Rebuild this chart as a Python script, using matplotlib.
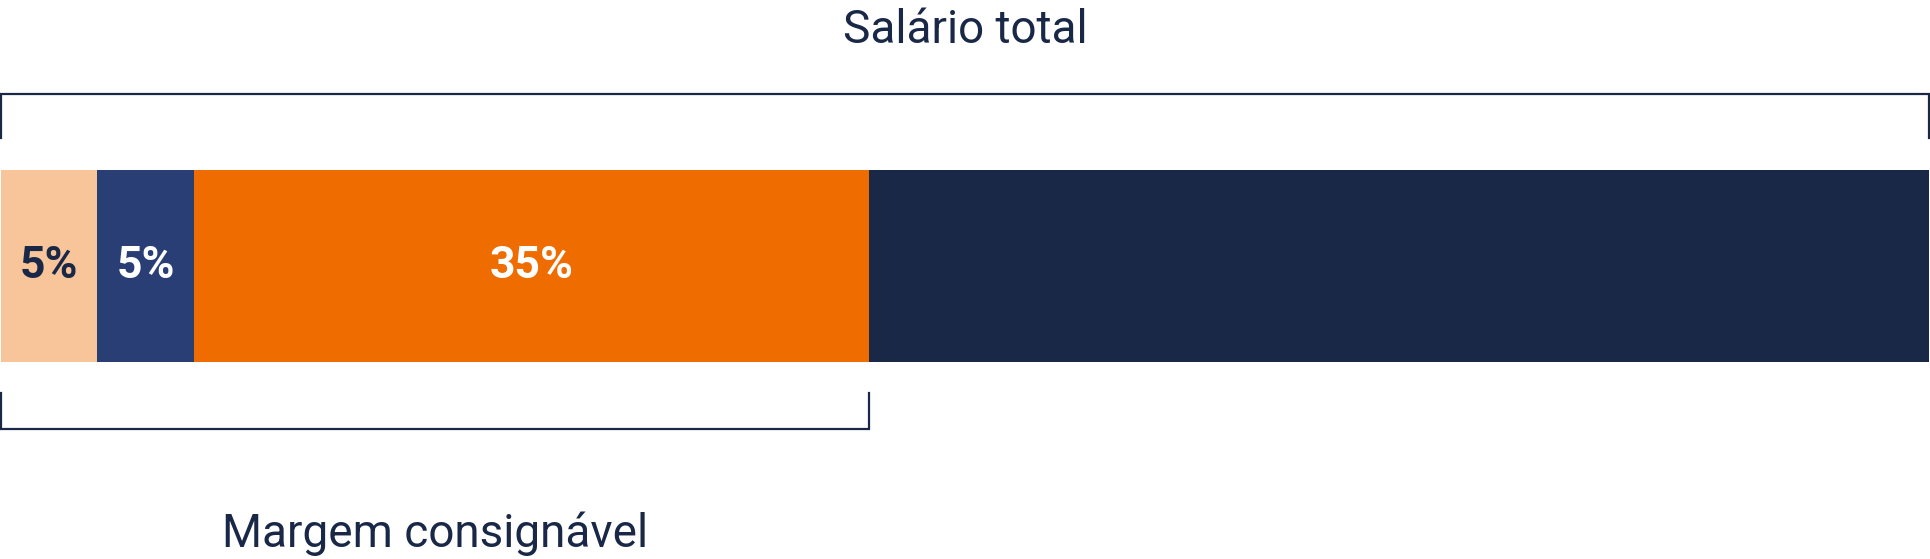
import matplotlib.pyplot as plt

plt.rcParams['font.family'] = ['Roboto', 'DejaVu Sans']

# segments of the salary (share of total, %)
shares = [5, 5, 35, 55]
labels = ["5%", "5%", "35%", ""]
colors = ["#F8C59A", "#283E74", "#EF6C00", "#1A2848"]
label_colors = ["#1A2848", "white", "white", "white"]
margin_parts = 3  # first three segments make up the margem consignável

navy = "#1A2848"


def main():
    fig = plt.figure(figsize=(19.31, 5.59), dpi=100)
    ax = fig.add_axes([0, 0, 1, 1])
    ax.set_xlim(-0.05, 100.1)
    ax.set_ylim(559, 0)
    ax.axis("off")

    left = 0
    for share, lab, col, tcol in zip(shares, labels, colors, label_colors):
        ax.barh(266, share, left=left, height=192, color=col, edgecolor="none")
        if lab:
            ax.text(left + share / 2, 266, lab, ha="center", va="center",
                    fontsize=32, fontweight="bold", color=tcol)
        left += share

    total = sum(shares)
    margin = sum(shares[:margin_parts])

    # top bracket - whole salary
    ax.plot([0, 0, total, total], [138, 94, 94, 138], color=navy, lw=1.6,
            solid_joinstyle="miter", clip_on=False)
    ax.text(total / 2, 30, "Salário total", ha="center", va="center",
            fontsize=33, color=navy)

    # bottom bracket - margin
    ax.plot([0, 0, margin, margin], [393, 429, 429, 393], color=navy, lw=1.6,
            solid_joinstyle="miter", clip_on=False)
    ax.text(margin / 2, 534, "Margem consignável", ha="center", va="center",
            fontsize=33, color=navy)

    fig.savefig("out.png", dpi=100)


if __name__ == "__main__":
    main()
